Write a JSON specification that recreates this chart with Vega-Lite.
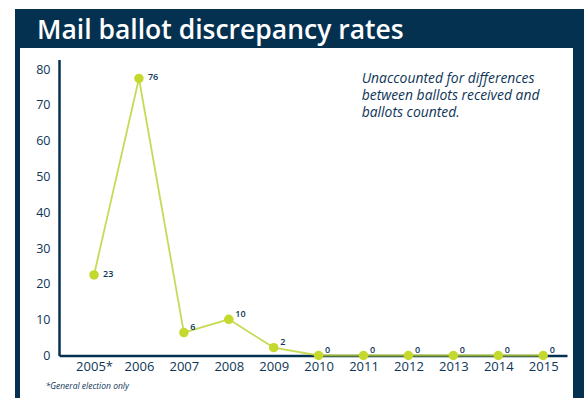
{
  "$schema": "https://vega.github.io/schema/vega-lite/v6.json",
  "background": "white",
  "padding": {"left": 15, "top": 9, "right": 0, "bottom": 0},
  "spacing": 0,
  "config": {"font": "Open Sans", "concat": {"spacing": 0}},
  "vconcat": [
    {
      "width": 569,
      "height": 39,
      "view": {"fill": "#043150", "stroke": null},
      "title": {
        "text": "Mail ballot discrepancy rates",
        "anchor": "start",
        "orient": "top",
        "offset": -35,
        "dx": 22,
        "color": "white",
        "font": "Open Sans",
        "fontSize": 26.5,
        "fontWeight": 600
      },
      "data": {"values": []},
      "mark": "point",
      "encoding": {}
    },
    {
      "spacing": 0,
      "hconcat": [
        {
          "width": 5,
          "height": 350,
          "view": {"fill": "#043150", "stroke": null},
          "data": {"values": []},
          "mark": "point",
          "encoding": {}
        },
        {
          "width": 553,
          "height": 350,
          "view": {"fill": "white", "stroke": null},
          "title": {
            "text": ["Unaccounted for differences", "between ballots received and", "ballots counted."],
            "anchor": "start",
            "frame": "group",
            "orient": "top",
            "offset": -72,
            "dx": 341.7,
            "color": "#0e3556",
            "font": "Open Sans",
            "fontSize": 13.9,
            "fontStyle": "italic",
            "fontWeight": "normal",
            "lineHeight": 17.3
          },
          "data": {
            "values": [
              {"year": 2005, "value": 22.5, "label": "23"},
              {"year": 2006, "value": 77.4, "label": "76"},
              {"year": 2007, "value": 6.4, "label": "6"},
              {"year": 2008, "value": 10.1, "label": "10"},
              {"year": 2009, "value": 2.2, "label": "2"},
              {"year": 2010, "value": 0, "label": "0"},
              {"year": 2011, "value": 0, "label": "0"},
              {"year": 2012, "value": 0, "label": "0"},
              {"year": 2013, "value": 0, "label": "0"},
              {"year": 2014, "value": 0, "label": "0"},
              {"year": 2015, "value": 0, "label": "0"}
            ]
          },
          "encoding": {
            "x": {
              "field": "year",
              "type": "quantitative",
              "scale": {"domain": [2004.22, 2015.53], "range": [39, 547], "nice": false, "zero": false},
              "axis": {
                "title": "*General election only",
                "titleX": 25,
                "titleY": 30,
                "titleAlign": "left",
                "titleAnchor": "start",
                "titleBaseline": "middle",
                "titleFontStyle": "italic",
                "titleFontWeight": "normal",
                "titleFontSize": 8.5,
                "titleColor": "#0e3556",
                "offset": -42.5,
                "values": [2005, 2006, 2007, 2008, 2009, 2010, 2011, 2012, 2013, 2014, 2015],
                "format": "d",
                "labelExpr": "datum.value == 2005 ? '2005*' : datum.label",
                "labelAngle": 0,
                "labelFontSize": 13,
                "labelColor": "#0e3556",
                "labelPadding": 5,
                "labelFlush": false,
                "labelOverlap": false,
                "ticks": false,
                "tickSize": 0,
                "domainColor": "#043150",
                "domainWidth": 2.5,
                "grid": false
              }
            },
            "y": {
              "field": "value",
              "type": "quantitative",
              "scale": {"domain": [0, 82.7], "range": [307.5, 11.5], "nice": false, "zero": false},
              "axis": {
                "title": null,
                "values": [0, 10, 20, 30, 40, 50, 60, 70, 80],
                "offset": -39,
                "ticks": false,
                "tickSize": 0,
                "labelPadding": 9,
                "labelFontSize": 12.5,
                "labelColor": "#0e3556",
                "labelFlush": false,
                "labelOverlap": false,
                "domainColor": "#043150",
                "domainWidth": 2.5,
                "grid": false
              }
            }
          },
          "layer": [
            {
              "mark": {"type": "line", "color": "#b9d12a", "opacity": 0.8, "strokeWidth": 1.8},
              "encoding": {}
            },
            {
              "mark": {"type": "circle", "size": 90, "color": "#c5d82e", "opacity": 1}
            },
            {
              "transform": [{"filter": "datum.value > 15"}],
              "mark": {"type": "text", "align": "left", "baseline": "middle", "dx": 9, "dy": -1, "fontSize": 9, "fontWeight": 600, "color": "#0e3556"},
              "encoding": {"text": {"field": "label", "type": "nominal"}}
            },
            {
              "transform": [{"filter": "datum.value <= 15"}],
              "mark": {"type": "text", "align": "left", "baseline": "middle", "dx": 6.5, "dy": -5.5, "fontSize": 9, "fontWeight": 600, "color": "#0e3556"},
              "encoding": {"text": {"field": "label", "type": "nominal"}}
            }
          ]
        },
        {
          "width": 11,
          "height": 350,
          "view": {"fill": "#043150", "stroke": null},
          "data": {"values": []},
          "mark": "point",
          "encoding": {}
        }
      ]
    }
  ]
}
